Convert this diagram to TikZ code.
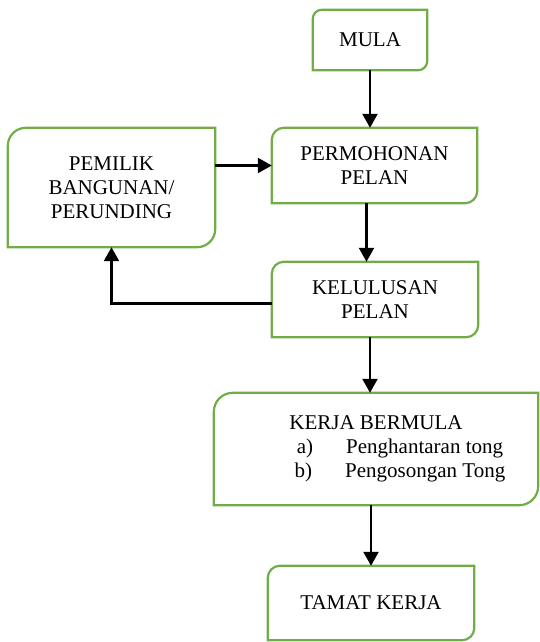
\documentclass[tikz,border=0pt]{standalone}
\usepackage{fontspec}
\setmainfont{Liberation Serif}
\usetikzlibrary{arrows.meta}

\definecolor{boxgreen}{RGB}{112,173,71}

\tikzset{
  stage/.style={align=center, inner sep=0pt, font=\rmfamily\fontsize{21}{24}\selectfont},
  outline/.style={draw=boxgreen, line width=2.2pt},
  flow/.style={line width=2.2pt, -{Triangle[length=14pt,width=15pt]}}
}

% box with rounded top left and bottom right corners
\newcommand{\stagebox}[2]{%
  \draw[outline] (#1.south west) -- ([yshift=-#2]#1.north west) arc (180:90:#2)
    -- (#1.north east) -- ([yshift=#2]#1.south east) arc (0:-90:#2) -- cycle;}

\begin{document}
\begin{tikzpicture}[x=1pt,y=1pt]

\useasboundingbox (0,0) rectangle (540,642);

\node[stage, minimum width=114pt, minimum height=60pt]  (mula)    at (370,602)   {MULA};
\node[stage, minimum width=207pt, minimum height=119pt] (pemilik) at (111.5,454.5) {PEMILIK\\BANGUNAN/\\PERUNDING};
\node[stage, minimum width=205pt, minimum height=75pt]  (mohon)   at (374.5,476.5) {PERMOHONAN\\PELAN};
\node[stage, minimum width=206pt, minimum height=75pt]  (lulus)   at (375,342.5)   {KELULUSAN\\PELAN};
\node[stage, minimum width=324pt, minimum height=112pt] (kerja)   at (376,193)     {KERJA BERMULA\\
  \hspace*{48pt}a)\hspace{33pt}Penghantaran tong\\
  \hspace*{48pt}b)\hspace{33pt}Pengosongan Tong};
\node[stage, minimum width=206pt, minimum height=74pt]  (tamat)   at (371,39)      {TAMAT KERJA};

\foreach \n/\r in {mula/9pt, pemilik/18pt, mohon/12pt, lulus/12pt, kerja/19pt, tamat/12pt}
  \stagebox{\n}{\r};

\draw[flow] (mula.south) -- (mula.south |- mohon.north);
\draw[flow] (pemilik.east |- mohon.west) -- (mohon.west);
\draw[flow] ([xshift=-8pt]mohon.south) -- ([xshift=-8pt]mohon.south |- lulus.north);
\draw[flow] ([xshift=-5pt]lulus.south) -- ([xshift=-5pt]lulus.south |- kerja.north);
\draw[flow] (kerja.south -| tamat.north) -- (tamat.north);

%\draw[flow] (lulus.west) -| (pemilik.south);
\draw[flow] ([yshift=-4pt]lulus.west) -| (pemilik.south);

\end{tikzpicture}
\end{document}
